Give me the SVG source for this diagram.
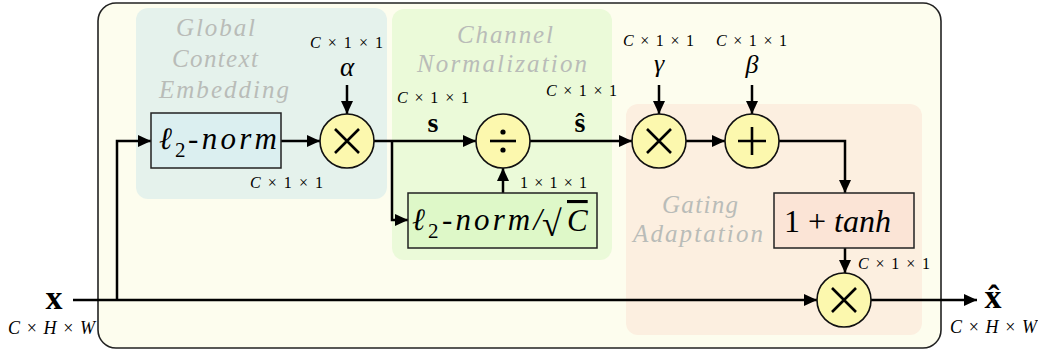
<svg xmlns="http://www.w3.org/2000/svg" width="1038" height="350" viewBox="0 0 1038 350" font-family="'Liberation Serif', 'Times New Roman', Tinos, 'Noto Serif', 'DejaVu Serif', FreeSerif, serif">
<defs>
<marker id="ah" markerUnits="userSpaceOnUse" markerWidth="14" markerHeight="12" refX="13" refY="6" orient="auto">
<path d="M0,0 L13,6 L0,12 z" fill="#000"/>
</marker>
<style>
.conn path{fill:none;stroke:#000;stroke-width:2.5;marker-end:url(#ah)}
.op{fill:#fcf8ae;stroke:#111;stroke-width:1.6}
.sym{stroke:#000;stroke-width:2.6;fill:none}
.box{stroke:#222;stroke-width:1.5}
text{font-family:'Liberation Serif','Times New Roman',Tinos,'Noto Serif','DejaVu Serif',FreeSerif,serif}
.reg{font-style:italic;font-size:25px;fill:#b9bcb8}
.dim{font-size:16px;fill:#000}
.big{font-size:18px;font-style:italic;fill:#000}
.it{font-style:italic}
.lbl{fill:#000}
</style>
</defs>
<rect x="98" y="3" width="843" height="345" rx="18" fill="#fdfdee" stroke="#222" stroke-width="1.6"/>
<g id="region-gce">
<rect x="136" y="8" width="251" height="191" rx="12" fill="#e5f2ec"/>
<text class="reg" x="176" y="36" textLength="79" lengthAdjust="spacing">Global</text>
<text class="reg" x="172" y="67" textLength="86" lengthAdjust="spacing">Context</text>
<text class="reg" x="159" y="98" textLength="130" lengthAdjust="spacing">Embedding</text>
</g>
<g id="region-cn">
<rect x="392" y="9" width="220" height="251" rx="12" fill="#ebfad9"/>
<text class="reg" x="457" y="43" textLength="96" lengthAdjust="spacing">Channel</text>
<text class="reg" x="417" y="72" textLength="170" lengthAdjust="spacing">Normalization</text>
</g>
<g id="region-ga">
<rect x="626" y="104" width="296" height="231" rx="12" fill="#fcefe0"/>
<text class="reg" x="662" y="213" textLength="76" lengthAdjust="spacing">Gating</text>
<text class="reg" x="633" y="242" textLength="130" lengthAdjust="spacing">Adaptation</text>
</g>
<g class="conn" id="connectors">
<path d="M73,300 H817"/>
<path d="M117,300 V141 H151"/>
<path d="M281,141 H320"/>
<path d="M347,85 V114"/>
<path d="M374,141 H476"/>
<path d="M392,141 V220 H408"/>
<path d="M503,193 V168"/>
<path d="M530,141 H632"/>
<path d="M659,85 V114"/>
<path d="M686,141 H725"/>
<path d="M752,85 V114"/>
<path d="M779,141 H845 V193"/>
<path d="M845,248 V273"/>
<path d="M871,300 H977"/>
</g>
<g id="l2norm">
<rect class="box" x="151" y="113" width="130" height="55" fill="#dbeff0"/>
<text class="lbl it" x="159" y="149" font-size="31">ℓ</text>
<text class="lbl" x="175" y="157" font-size="21">2</text>
<text class="lbl it" x="188" y="149" font-size="31" textLength="89" lengthAdjust="spacing">-norm</text>
</g>
<g id="mul-alpha">
<circle class="op" cx="347" cy="141" r="27"/>
<path class="sym" d="M335,129 L359,153 M359,129 L335,153"/>
</g>
<g id="div">
<circle class="op" cx="503" cy="141" r="27"/>
<path class="sym" d="M490,141 H516"/>
<circle cx="503" cy="132" r="2.6" fill="#000"/>
<circle cx="503" cy="150" r="2.6" fill="#000"/>
</g>
<g id="l2norm-sqrtc">
<rect class="box" x="408" y="193" width="189" height="55" fill="#def8c8"/>
<text class="lbl it" x="412" y="230" font-size="31">ℓ</text>
<text class="lbl" x="428" y="238" font-size="21">2</text>
<text class="lbl it" x="442" y="230" font-size="31" textLength="100" lengthAdjust="spacing">-norm/</text>
<text class="lbl" x="542" y="236" font-size="36">√</text>
<text class="lbl it" x="567" y="231" font-size="31" text-decoration="overline">C</text>
</g>
<g id="mul-gamma">
<circle class="op" cx="659" cy="141" r="27"/>
<path class="sym" d="M647,129 L671,153 M671,129 L647,153"/>
</g>
<g id="add-beta">
<circle class="op" cx="752" cy="141" r="27"/>
<path class="sym" d="M738,141 H766 M752,127 V155"/>
</g>
<g id="tanh">
<rect class="box" x="774" y="193" width="140" height="55" fill="#fbe4d6"/>
<text class="lbl" x="784" y="232" font-size="32">1 + <tspan class="it">tanh</tspan></text>
</g>
<g id="mul-out">
<circle class="op" cx="844" cy="300" r="27"/>
<path class="sym" d="M832,288 L856,312 M856,288 L832,312"/>
</g>
<g id="labels">
<text class="dim" x="310" y="48" textLength="73" lengthAdjust="spacing"><tspan class="it">C</tspan> × 1 × 1</text>
<text class="lbl it" x="347" y="76" font-size="27" text-anchor="middle">α</text>
<text class="dim" x="250" y="188" textLength="73" lengthAdjust="spacing"><tspan class="it">C</tspan> × 1 × 1</text>
<text class="dim" x="397" y="103" textLength="72" lengthAdjust="spacing"><tspan class="it">C</tspan> × 1 × 1</text>
<text class="lbl" x="433" y="132" font-size="28" font-weight="bold" text-anchor="middle">s</text>
<text class="dim" x="546" y="96" textLength="71" lengthAdjust="spacing"><tspan class="it">C</tspan> × 1 × 1</text>
<text class="lbl" x="580" y="132" font-size="28" font-weight="bold" text-anchor="middle">ŝ</text>
<text class="dim" x="520" y="188" textLength="67" lengthAdjust="spacing">1 × 1 × 1</text>
<text class="dim" x="623" y="46" textLength="71" lengthAdjust="spacing"><tspan class="it">C</tspan> × 1 × 1</text>
<text class="lbl it" x="659" y="72" font-size="26" text-anchor="middle">γ</text>
<text class="dim" x="716" y="46" textLength="71" lengthAdjust="spacing"><tspan class="it">C</tspan> × 1 × 1</text>
<text class="lbl it" x="752" y="73" font-size="26" text-anchor="middle">β</text>
<text class="dim" x="858" y="269" textLength="72" lengthAdjust="spacing"><tspan class="it">C</tspan> × 1 × 1</text>
<text class="lbl" x="54" y="309" font-size="34" font-weight="bold" text-anchor="middle">x</text>
<text class="big" x="8" y="334" textLength="87" lengthAdjust="spacing">C <tspan font-style="normal">×</tspan> H <tspan font-style="normal">×</tspan> W</text>
<text class="lbl" x="993" y="308" font-size="34" font-weight="bold" text-anchor="middle">x̂</text>
<text class="big" x="950" y="333" textLength="87" lengthAdjust="spacing">C <tspan font-style="normal">×</tspan> H <tspan font-style="normal">×</tspan> W</text>
</g>
</svg>
